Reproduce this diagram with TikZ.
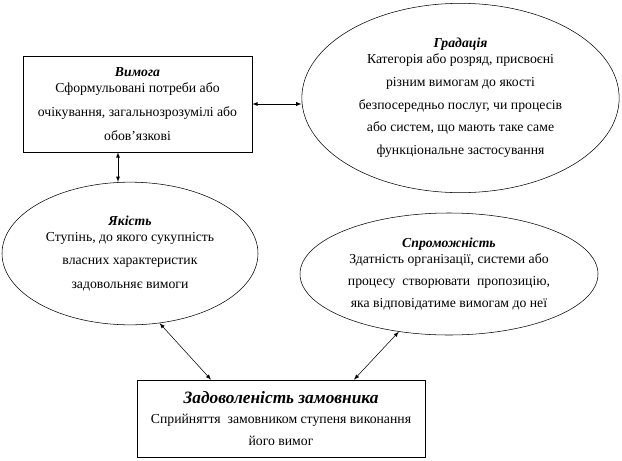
\documentclass[tikz,border=0pt]{standalone}
\usepackage{fontspec}
\setmainfont{Liberation Serif}
\usepackage{tikz}
\usetikzlibrary{shapes.geometric}

\begin{document}
\begin{tikzpicture}[>=latex, x=0.75pt, y=-0.75pt,
    termbox/.style = {thin, shape=rectangle, draw, align=center, inner sep=0pt, font=\fontsize{10.3}{12}\selectfont},
    termoval/.style = {thin, shape=ellipse, draw, align=center, inner sep=0pt, font=\fontsize{10.3}{12}\selectfont},
    link/.style = {thin, <->}]
\useasboundingbox (0,0) rectangle (622,461);
\node[termbox, minimum width=171.75pt, minimum height=72pt] (vymoga) at (137.5,104)
  {\textbf{\textit{Вимога}}\\ Сформульовані потреби або\\[6pt] очікування, загальнозрозумілі або\\[6pt] обов’язкові};
\node[termoval, minimum width=238pt, minimum height=142pt] (gradacia) at (460.5,98)
  {\textbf{\textit{Градація}}\\ Категорія або розряд, присвоєні\\[5pt] різним вимогам до якості\\[5pt] безпосередньо послуг, чи процесів\\[5pt] або систем, що мають таке саме\\[5pt] функціональне застосування};
\node[termoval, minimum width=192pt, minimum height=107pt] (yakist) at (130,253.5)
  {\textbf{\textit{Якість}}\\ Ступінь, до якого сукупність\\[5.5pt] власних характеристик\\[5.5pt] задовольняє вимоги};
\node[termoval, minimum width=223.5pt, minimum height=91.5pt] (spromozh) at (449,274)
  {\textbf{\textit{Спроможність}}\\ Здатність організації, системи або\\[4.5pt] процесу\ \ створювати\ \ пропозицію,\\[4.5pt] яка відповідатиме вимогам до неї};
\node[termbox, minimum width=216pt, minimum height=57.75pt] (zadov) at (281,418.5)
  {{\fontsize{13}{15}\selectfont\textbf{\textit{Задоволеність замовника}}}\\[3pt] Сприйняття\ \ замовником ступеня виконання\\[5pt] його вимог};
\draw[link] (vymoga.east) -- (vymoga.east -| gradacia.west);
\draw[link] (vymoga.-112) -- (vymoga.-112 |- yakist.north);
\draw[link] (yakist.-67) -- (zadov.151);
\draw[link] (zadov.28.5) -- (spromozh.-131.5);
\end{tikzpicture}
\end{document}
